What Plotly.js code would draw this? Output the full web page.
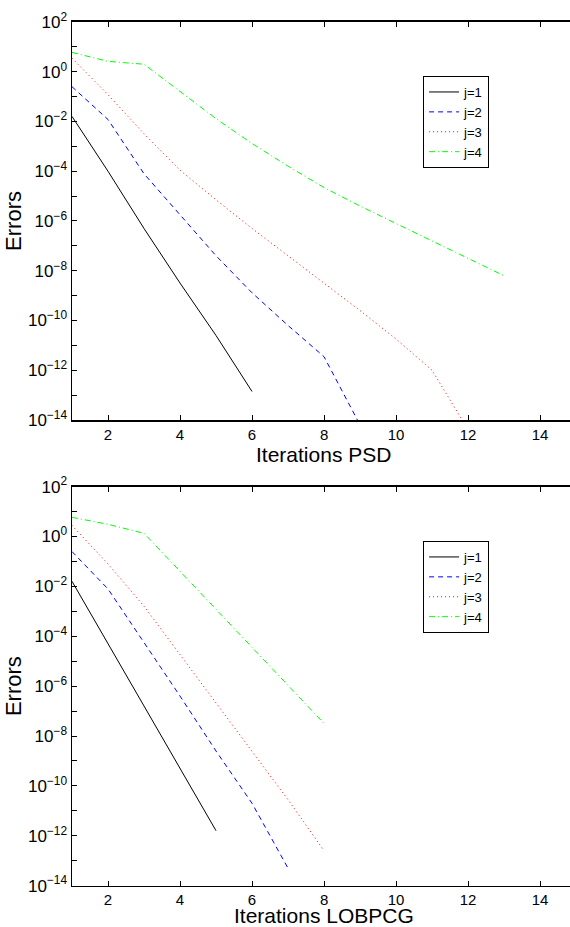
<!DOCTYPE html>
<html>
<head>
<meta charset="utf-8">
<script src="https://cdn.plot.ly/plotly-3.0.1.min.js"></script>
<style>html,body{margin:0;padding:0;background:#fff;}#chart{width:570px;height:927px;}</style>
</head>
<body>
<div id="chart"></div>
<script>
// ---- Data ----
const seriesNames = ["j=1", "j=2", "j=3", "j=4"];

// PSD (top panel)
const psdIter1 = [1, 2, 3, 4, 5, 6];
const psdErr1  = [1.6e-2, 1.0e-4, 5.0e-7, 3.2e-9, 2.5e-11, 1.4e-13];
const psdIter2 = [1, 2, 3, 4, 5, 6, 7, 8, 9];
const psdErr2  = [2.5e-1, 1.2e-2, 7.9e-5, 1.8e-6, 4.0e-8, 1.3e-9, 6.3e-11, 3.5e-12, 6.3e-15];
const psdIter3 = [1, 2, 3, 4, 5, 6, 7, 8, 9, 10, 11, 12];
const psdErr3  = [3.5, 1.2e-1, 3.2e-3, 1.1e-4, 7.1e-6, 5.0e-7, 4.0e-8, 3.2e-9, 2.5e-10, 1.8e-11, 1.0e-12, 4.0e-15];
const psdIter4 = [1, 2, 3, 4, 5, 6, 7, 8, 9, 10, 11, 12, 13];
const psdErr4  = [6.0, 2.6, 2.0, 1.6e-1, 1.3e-2, 1.3e-3, 1.6e-4, 2.2e-5, 4.0e-6, 7.9e-7, 1.6e-7, 3.2e-8, 6.3e-9];

// LOBPCG (bottom panel)
const lobIter1 = [1, 2, 3, 4, 5];
const lobErr1  = [1.6e-2, 5.0e-5, 1.6e-7, 5.0e-10, 1.6e-12];
const lobIter2 = [1, 2, 3, 4, 5, 6, 7];
const lobErr2  = [2.5e-1, 7.9e-3, 5.6e-5, 4.0e-7, 2.5e-9, 2.0e-11, 5.0e-14];
const lobIter3 = [1, 2, 3, 4, 5, 6, 7, 8];
const lobErr3  = [2.8, 7.9e-2, 1.6e-3, 1.8e-5, 2.0e-7, 2.5e-9, 2.8e-11, 2.5e-13];
const lobIter4 = [1, 2, 3, 4, 5, 6, 7, 8];
const lobErr4  = [5.9, 3.1, 1.35, 4.0e-2, 1.2e-3, 3.5e-5, 1.1e-6, 3.2e-8];

// Axis ticks
const xTickVals = [2, 4, 6, 8, 10, 12, 14];
const yTickVals = [1e-14, 1e-12, 1e-10, 1e-8, 1e-6, 1e-4, 1e-2, 1e0, 1e2];
const yTickText = ["10<sup>\u221214</sup>", "10<sup>\u221212</sup>", "10<sup>\u221210</sup>",
                   "10<sup>\u22128</sup>", "10<sup>\u22126</sup>", "10<sup>\u22124</sup>",
                   "10<sup>\u22122</sup>", "10<sup>0</sup>", "10<sup>2</sup>"];
const yMinorVals = [1e-13, 1e-11, 1e-9, 1e-7, 1e-5, 1e-3, 1e-1, 1e1];
const xTitleTop = "Iterations PSD";
const xTitleBottom = "Iterations LOBPCG";
const yTitle = "Errors";

// ---- Styles ----
const styles = [
  {color: "rgb(0,0,0)",   dash: "solid"},
  {color: "rgb(0,0,255)", dash: "5px,4px"},
  {color: "rgb(255,0,0)", dash: "1px,3px"},
  {color: "rgb(0,255,0)", dash: "6px,3px,1px,3px"}
];

const topX = [psdIter1, psdIter2, psdIter3, psdIter4];
const topY = [psdErr1, psdErr2, psdErr3, psdErr4];
const botX = [lobIter1, lobIter2, lobIter3, lobIter4];
const botY = [lobErr1, lobErr2, lobErr3, lobErr4];

const traces = [];
for (let i = 0; i < 4; i++) {
  traces.push({x: topX[i], y: topY[i], type: "scatter", mode: "lines", name: seriesNames[i],
    xaxis: "x", yaxis: "y", legend: "legend",
    line: {color: styles[i].color, dash: styles[i].dash, width: 1}});
}
for (let i = 0; i < 4; i++) {
  traces.push({x: botX[i], y: botY[i], type: "scatter", mode: "lines", name: seriesNames[i],
    xaxis: "x2", yaxis: "y2", legend: "legend2",
    line: {color: styles[i].color, dash: styles[i].dash, width: 1}});
}

const font = "Liberation Sans, Arial, Helvetica, sans-serif";

function xAxis(anchor) {
  return {
    anchor: anchor, domain: [0, 1], range: [1, 14.83],
    tickmode: "array", tickvals: xTickVals,
    ticks: "inside", ticklen: 5, tickcolor: "#000", tickwidth: 1,
    showline: true, linecolor: "#000", linewidth: 1.5, mirror: "ticks",
    showgrid: false, zeroline: false,
    tickfont: {family: font, size: 15, color: "#000"},
    automargin: false
  };
}
function yAxis(anchor, domain) {
  return {
    anchor: anchor, domain: domain, type: "log", range: [-14, 2],
    tickmode: "array", tickvals: yTickVals, ticktext: yTickText,
    ticks: "inside", ticklen: 5, tickcolor: "#000", tickwidth: 1,
    minor: {tickmode: "array", tickvals: yMinorVals, ticks: "inside", ticklen: 5, tickcolor: "#000", tickwidth: 1, showgrid: false},
    showline: true, linecolor: "#000", linewidth: 1.5, mirror: false,
    showgrid: false, zeroline: false,
    tickfont: {family: font, size: 17, color: "#000"},
    title: {text: yTitle, font: {family: font, size: 22, color: "#000"}, standoff: 0},
    automargin: false
  };
}

const legendStyle = {
  xanchor: "left", yanchor: "top",
  bgcolor: "#fff", bordercolor: "#000", borderwidth: 1,
  font: {family: font, size: 13, color: "#000"},
  tracegroupgap: 0, itemwidth: 30
};

const titleFont = {family: font, size: 21, color: "#000"};

const layout = {
  width: 570, height: 927,
  margin: {l: 72, r: 0, t: 0, b: 0},
  paper_bgcolor: "#fff", plot_bgcolor: "#fff",
  showlegend: true,
  font: {family: font, color: "#000"},
  xaxis: xAxis("y"),
  yaxis: yAxis("x", [0.5469, 0.9763]),
  xaxis2: xAxis("y2"),
  yaxis2: yAxis("x2", [0.0446, 0.4750]),
  legend: Object.assign({x: 0.705, y: 0.918}, legendStyle),
  legend2: Object.assign({x: 0.705, y: 0.4164}, legendStyle),
  annotations: [
    {text: xTitleTop, xref: "paper", yref: "paper", x: 0.506, y: 0.5095,
     xanchor: "center", yanchor: "middle", showarrow: false, font: titleFont},
    {text: xTitleBottom, xref: "paper", yref: "paper", x: 0.506, y: 0.0125,
     xanchor: "center", yanchor: "middle", showarrow: false, font: titleFont}
  ]
};

Plotly.newPlot("chart", traces, layout, {staticPlot: true, displayModeBar: false});
</script>
</body>
</html>
